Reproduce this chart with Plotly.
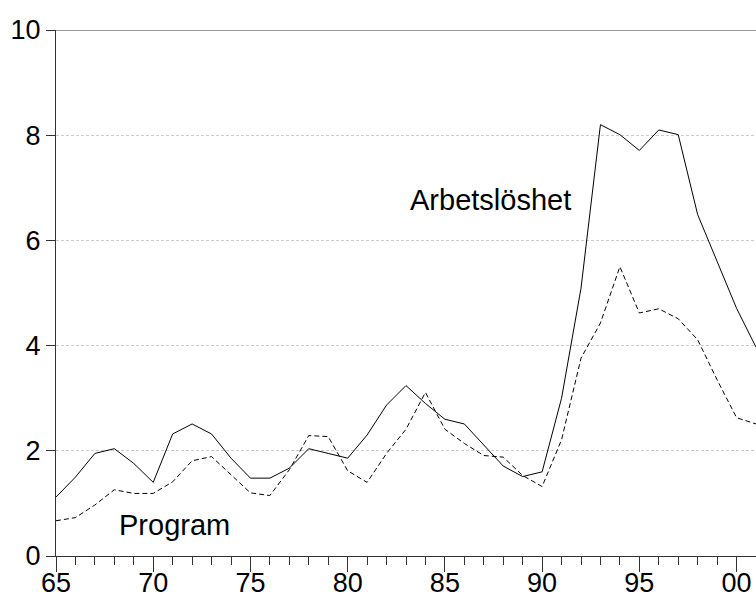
"""Arbetslöshet och program, 1965-2001."""

import plotly.graph_objects as go

YEARS = list(range(1965, 2002))

ARBETSLOSHET = [
    1.12, 1.50, 1.95, 2.04, 1.76, 1.40, 2.32, 2.51, 2.32, 1.86,
    1.48, 1.48, 1.67, 2.04, 1.95, 1.86, 2.30, 2.87, 3.24, 2.90,
    2.60, 2.51, 2.11, 1.71, 1.51, 1.60, 3.00, 5.09, 8.20, 8.01,
    7.71, 8.10, 8.01, 6.49, 5.60, 4.71, 3.97,
]

PROGRAM = [
    0.67, 0.73, 0.97, 1.26, 1.19, 1.19, 1.41, 1.81, 1.89, 1.54,
    1.20, 1.15, 1.64, 2.29, 2.27, 1.62, 1.40, 1.95, 2.41, 3.11,
    2.41, 2.14, 1.91, 1.88, 1.53, 1.32, 2.21, 3.76, 4.43, 5.50,
    4.62, 4.70, 4.51, 4.11, 3.35, 2.63, 2.51,
]

X_TICKS = [1965, 1970, 1975, 1980, 1985, 1990, 1995, 2000]
X_TICK_LABELS = ["65", "70", "75", "80", "85", "90", "95", "00"]
Y_TICKS = [0, 2, 4, 6, 8, 10]

FONT = "Arial, 'Liberation Sans', sans-serif"
FONT_SIZE = 27

fig = go.Figure()

fig.add_trace(go.Scatter(
    x=YEARS, y=ARBETSLOSHET, mode="lines", name="Arbetslöshet",
    line=dict(color="black", width=1),
))
fig.add_trace(go.Scatter(
    x=YEARS, y=PROGRAM, mode="lines", name="Program",
    line=dict(color="black", width=1, dash="5px,3px"),
))

# labels sit directly on the plot, no legend
fig.add_annotation(x=1987.35, y=6.77, text="Arbetslöshet", showarrow=False,
                   xanchor="center", yanchor="middle", font=dict(size=29))
fig.add_annotation(x=1971.1, y=0.59, text="Program", showarrow=False,
                   xanchor="center", yanchor="middle", font=dict(size=29))

# top frame line only (right side is cut off in the original)
fig.add_shape(type="line", xref="paper", yref="y", x0=0, x1=1, y0=10, y1=10,
              line=dict(color="#333333", width=1))

fig.update_layout(
    width=756,
    height=596,
    margin=dict(l=56, r=0, t=30, b=40),
    plot_bgcolor="white",
    paper_bgcolor="white",
    showlegend=False,
    font=dict(family=FONT, size=FONT_SIZE, color="black"),
    xaxis=dict(
        range=[1965, 2001],
        tickmode="array",
        tickvals=X_TICKS,
        ticktext=X_TICK_LABELS,
        ticks="outside",
        ticklen=15,
        tickcolor="#333333",
        ticklabelstandoff=-12,
        showline=True,
        linecolor="#333333",
        linewidth=1,
        showgrid=False,
        zeroline=False,
        automargin=False,
        minor=dict(ticks="outside", dtick=1, tick0=1965, ticklen=8,
                   tickcolor="#333333", showgrid=False),
    ),
    yaxis=dict(
        range=[0, 10],
        tickmode="array",
        tickvals=Y_TICKS,
        ticks="outside",
        ticklen=9,
        tickcolor="#333333",
        showline=True,
        linecolor="#333333",
        linewidth=1,
        showgrid=True,
        gridcolor="#cccccc",
        griddash="3px,2px",
        gridwidth=1,
        zeroline=False,
        automargin=False,
    ),
)

# drop the default 8px body margin so the figure fills the window exactly
fig.write_html(
    "out.html",
    config={"displayModeBar": False},
    post_script="document.body.style.margin='0';document.body.style.overflow='hidden';",
)
